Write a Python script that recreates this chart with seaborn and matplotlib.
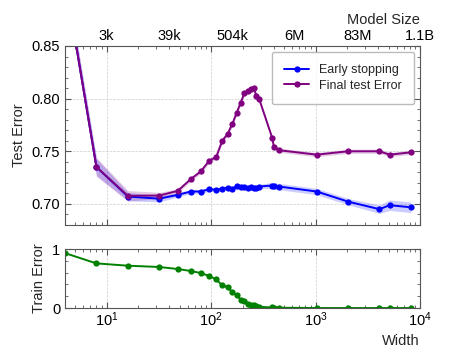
import numpy as np
import pandas as pd
import matplotlib
matplotlib.use('Agg')
import matplotlib.pyplot as plt
import matplotlib.ticker as mticker
import seaborn as sns

# widths (x axis)
widths = [4, 8, 16, 32, 48, 64, 80, 96, 112, 128, 144, 160, 176, 192, 208, 224,
          240, 256, 272, 288, 384, 400, 448, 1024, 2048, 4096, 5120, 8192]

# early stopping test error
early_stop = [0.914, 0.735, 0.707, 0.705, 0.7086, 0.7118, 0.7118, 0.714, 0.7134, 0.7146,
              0.7153, 0.7143, 0.7172, 0.7163, 0.7165, 0.7153, 0.7163, 0.715, 0.7156, 0.7165,
              0.7175, 0.717, 0.7165, 0.7118, 0.7022, 0.695, 0.6988, 0.6968]
early_stop_err = [0.008, 0.008, 0.004, 0.003, 0.002, 0.002, 0.002, 0.002, 0.002, 0.002,
                  0.002, 0.002, 0.002, 0.002, 0.002, 0.002, 0.002, 0.002, 0.002, 0.002,
                  0.003, 0.003, 0.003, 0.003, 0.003, 0.004, 0.005, 0.005]

# final test error
final_test = [0.914, 0.735, 0.7077, 0.708, 0.7124, 0.7236, 0.731, 0.741, 0.7446, 0.760,
              0.7666, 0.776, 0.7867, 0.796, 0.805, 0.8074, 0.809, 0.810, 0.8026, 0.800,
              0.763, 0.754, 0.751, 0.7468, 0.750, 0.750, 0.7468, 0.749]
final_test_err = [0.009, 0.009, 0.005, 0.003, 0.002, 0.002, 0.002, 0.002, 0.002, 0.002,
                  0.002, 0.002, 0.002, 0.002, 0.002, 0.002, 0.002, 0.002, 0.002, 0.002,
                  0.002, 0.002, 0.002, 0.002, 0.002, 0.002, 0.002, 0.002]

# train error
train_err = [0.93, 0.756, 0.717, 0.695, 0.661, 0.627, 0.593, 0.542, 0.485, 0.383,
             0.356, 0.264, 0.22, 0.141, 0.112, 0.068, 0.056, 0.05, 0.04, 0.02,
             0.01, 0.008, 0.005, 0.0, 0.0, 0.0, 0.0, 0.0]

# model size labels on top axis
size_ticks = [10, 39.8, 158.5, 631, 2512, 10000]
size_labels = ['3k', '39k', '504k', '6M', '83M', '1.1B']

df = pd.DataFrame({'width': widths, 'early': early_stop, 'early_err': early_stop_err,
                   'final': final_test, 'final_err': final_test_err, 'train': train_err})
df['early_lo'] = df['early'] - df['early_err']
df['early_hi'] = df['early'] + df['early_err']
df['final_lo'] = df['final'] - df['final_err']
df['final_hi'] = df['final'] + df['final_err']

sns.set_style('ticks')
plt.rcParams['font.family'] = ['Liberation Sans', 'DejaVu Sans']
plt.rcParams['font.size'] = 10.5
plt.rcParams['axes.edgecolor'] = '#555555'
plt.rcParams['xtick.color'] = '#555555'
plt.rcParams['ytick.color'] = '#555555'
plt.rcParams['xtick.labelcolor'] = 'black'
plt.rcParams['ytick.labelcolor'] = 'black'

fig = plt.figure(figsize=(4.49, 3.59), dpi=100)
ax = fig.add_axes([0.1448, 0.3733, 0.7906, 0.4986])
ax2 = fig.add_axes([0.1448, 0.142, 0.7906, 0.1644], sharex=ax)

# top plot
ax.fill_between(df['width'], df['early_lo'], df['early_hi'], color='blue', alpha=0.2, lw=0)
ax.fill_between(df['width'], df['final_lo'], df['final_hi'], color='purple', alpha=0.2, lw=0)
sns.lineplot(data=df, x='width', y='early', ax=ax, color='blue', marker='o', markersize=4.5,
             markeredgewidth=0, lw=1.4, label='Early stopping')
sns.lineplot(data=df, x='width', y='final', ax=ax, color='purple', marker='o', markersize=4.5,
             markeredgewidth=0, lw=1.4, label='Final test Error')

ax.set_xscale('log')
ax.set_xlim(4, 1e4)
ax.set_ylim(0.68, 0.85)
ax.set_xlabel('')
ax.set_ylabel('Test Error', fontsize=10.5)
ax.yaxis.set_major_locator(mticker.FixedLocator([0.70, 0.75, 0.80, 0.85]))
ax.yaxis.set_major_formatter(mticker.FormatStrFormatter('%.2f'))
ax.yaxis.set_minor_locator(mticker.MultipleLocator(0.01))
ax.tick_params(which='both', direction='in', top=True, right=True, labelbottom=False, labelsize=10.5)
ax.tick_params(which='major', length=4)
ax.tick_params(which='minor', length=2)
ax.grid(True, which='major', ls='--', lw=0.5, color='#cccccc')

leg = ax.legend(loc='upper right', fontsize=9, frameon=True, fancybox=True, edgecolor='#aaaaaa',
                borderpad=1.0, labelspacing=0.3, handletextpad=0.8, borderaxespad=0.45)

secax = ax.secondary_xaxis('top')
secax.set_xticks(size_ticks, size_labels)
secax.xaxis.set_minor_locator(mticker.NullLocator())
secax.tick_params(length=0, labelsize=10.5, pad=2)
secax.set_xlabel('Model Size', loc='right', fontsize=10.5, labelpad=4)
secax.spines['top'].set_visible(False)

# bottom plot
sns.lineplot(data=df, x='width', y='train', ax=ax2, color='green', marker='o', markersize=4.5,
             markeredgewidth=0, lw=1.4)
ax2.set_ylim(0, 1)
ax2.set_ylabel('Train Error', fontsize=10.5)
ax2.set_xlabel('Width', loc='right', fontsize=10.5, labelpad=3)
ax2.yaxis.set_major_locator(mticker.FixedLocator([0, 1]))
ax2.yaxis.set_minor_locator(mticker.MultipleLocator(0.2))
ax2.tick_params(which='both', direction='in', top=True, right=True, labelsize=10.5)
ax2.tick_params(axis='x', pad=2)
ax2.tick_params(which='major', length=4)
ax2.tick_params(which='minor', length=2)
ax2.grid(True, which='major', axis='x', ls='--', lw=0.5, color='#cccccc')

fig.savefig('out.png', dpi=100)
